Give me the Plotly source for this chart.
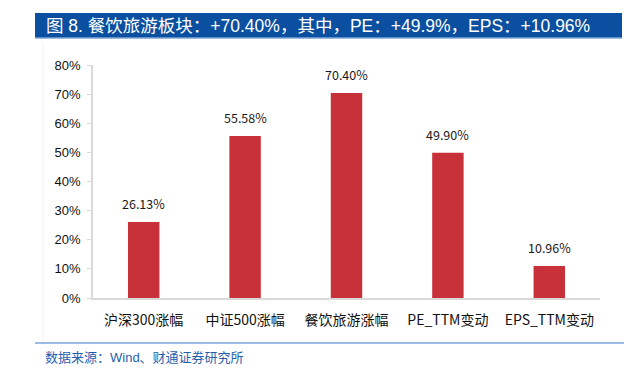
import plotly.graph_objects as go

categories = ["沪深300涨幅", "中证500涨幅", "餐饮旅游涨幅", "PE_TTM变动", "EPS_TTM变动"]
values = [26.13, 55.58, 70.40, 49.90, 10.96]
value_labels = ["26.13%", "55.58%", "70.40%", "49.90%", "10.96%"]
tick_vals = [0, 10, 20, 30, 40, 50, 60, 70, 80]
tick_text = ["0%", "10%", "20%", "30%", "40%", "50%", "60%", "70%", "80%"]
title_text = "图 8. 餐饮旅游板块：+70.40%，其中，PE：+49.9%，EPS：+10.96%"
source_text = "数据来源：Wind、财通证券研究所"

# page has an 8px body margin: screen = figure + 8
OFF = 8
W, H = 632, 382
L = 93 - OFF
T = 65 - OFF
R = W - (600 - OFF)
B = H - (298 - OFF)
PW, PH = W - L - R, H - T - B

def px(x):
    return ((x - OFF) - L) / PW

def py(y):
    return (H - B - (y - OFF)) / PH

CJK = "Noto Sans CJK SC"
LAT = "Liberation Sans, Arial, Noto Sans CJK SC"

fig = go.Figure()
fig.add_trace(go.Bar(
    x=categories, y=values,
    marker=dict(color="#c8313a", line=dict(width=0)),
    width=0.31,
    hoverinfo="skip",
))

annotations = []
for c, v, t in zip(categories, values, value_labels):
    annotations.append(dict(
        x=c, y=v, xref="x", yref="y", text=t, showarrow=False,
        yanchor="bottom", yshift=7,
        font=dict(family=CJK, size=12.5, color="#1a1a1a"),
    ))

annotations.append(dict(
    x=px(44), y=py(25.5), xref="paper", yref="paper", text=title_text,
    showarrow=False, xanchor="left", yanchor="middle",
    font=dict(family=LAT, size=17.5, color="#ffffff"),
))
annotations.append(dict(
    x=px(43), y=py(357), xref="paper", yref="paper", text=source_text,
    showarrow=False, xanchor="left", yanchor="middle",
    font=dict(family=LAT, size=13, color="#1f5fae"),
))

shapes = [
    dict(type="rect", xref="paper", yref="paper",
         x0=px(35), x1=px(622), y0=py(38), y1=py(13),
         fillcolor="#0b4fa0", line=dict(width=0), layer="below"),
    dict(type="line", xref="paper", yref="paper",
         x0=px(35), x1=px(622), y0=py(38), y1=py(38),
         line=dict(color="#7fa6d6", width=1.5)),
    dict(type="line", xref="paper", yref="paper",
         x0=px(35), x1=px(640), y0=py(343), y1=py(343),
         line=dict(color="#7aa7dc", width=1.5)),
    dict(type="line", xref="paper", yref="paper",
         x0=px(43), x1=px(43), y0=py(43), y1=py(340),
         line=dict(color="#f0f0f0", width=1)),
]

fig.update_layout(
    width=W, height=H,
    margin=dict(l=L, r=R, t=T, b=B, pad=0),
    paper_bgcolor="#ffffff", plot_bgcolor="#ffffff",
    showlegend=False,
    annotations=annotations,
    shapes=shapes,
    bargap=0.69,
)
fig.update_xaxes(
    showgrid=False, zeroline=False,
    showline=True, linecolor="#d9d9d9", linewidth=2,
    ticks="", tickfont=dict(family=CJK, size=14, color="#111111"),
    ticklabelstandoff=8,
)
fig.update_yaxes(
    range=[0, 80], tickvals=tick_vals, ticktext=tick_text,
    showgrid=False, zeroline=False,
    showline=True, linecolor="#d9d9d9", linewidth=1.5,
    ticks="outside", ticklen=4, tickcolor="#d9d9d9",
    tickfont=dict(family=LAT, size=13, color="#111111"),
    ticklabelstandoff=4,
)

fig.write_html("out.html")
